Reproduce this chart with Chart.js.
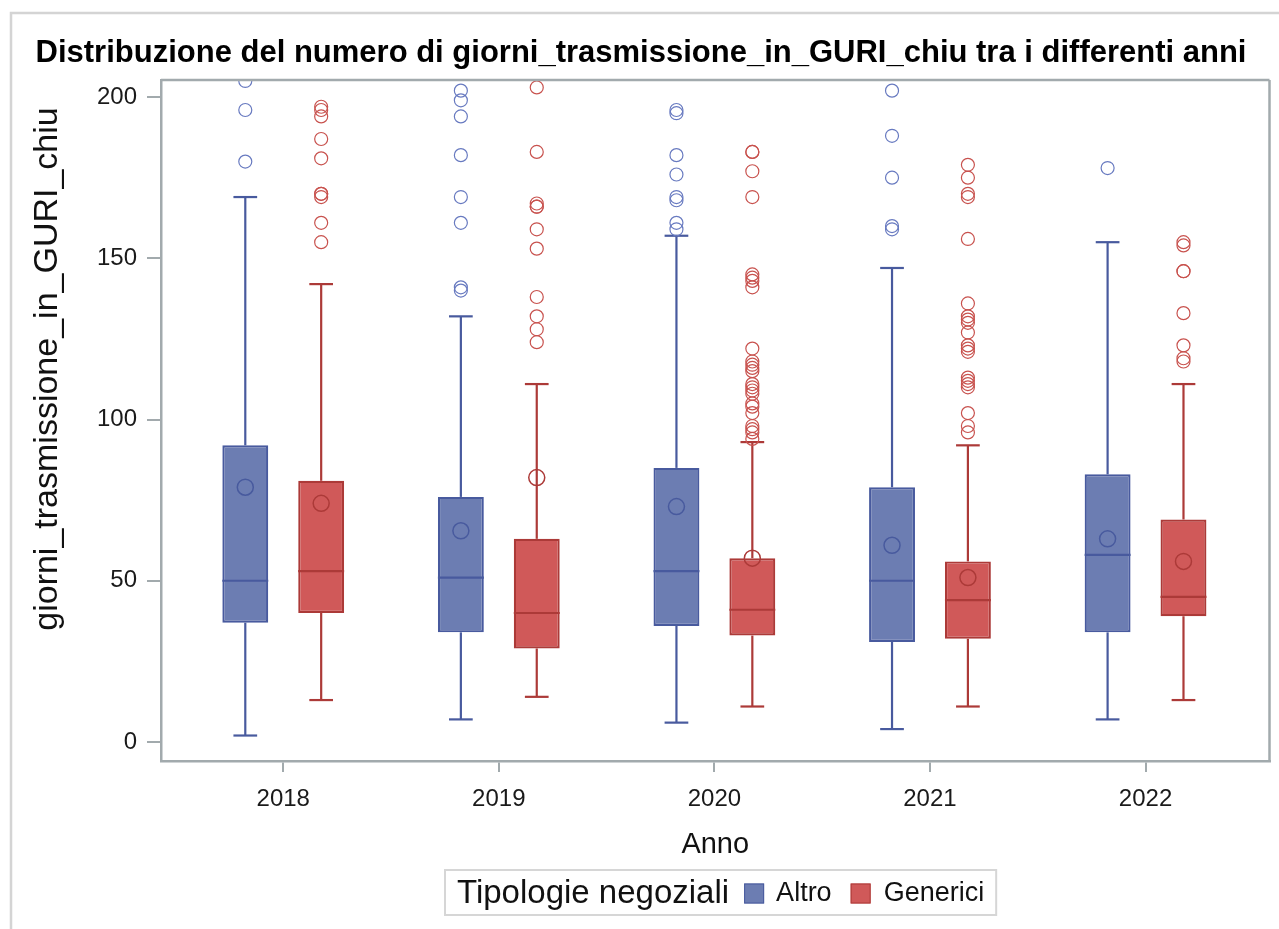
<!DOCTYPE html>
<html>
<head>
<meta charset="utf-8">
<title>Distribuzione giorni_trasmissione_in_GURI_chiu</title>
<script src="https://cdn.jsdelivr.net/npm/chart.js@4.4.0/dist/chart.umd.min.js"></script>
<style>
  html, body { margin: 0; padding: 0; background: #ffffff; }
  #box-wrap { width: 1279px; height: 929px; }
</style>
</head>
<body>
<div id="box-wrap"><canvas id="box-chart" width="1279" height="929"></canvas></div>
<script>
// Anni (categorie)
var years = ["2018", "2019", "2020", "2021", "2022"];
var yTicks = [0, 50, 100, 150, 200];

// Altro
var altroMin    = [2, 7, 6, 4, 7];
var altroQ1     = [37, 34, 36, 31, 34];
var altroMedian = [50, 51, 53, 50, 58];
var altroQ3     = [92, 76, 85, 79, 83];
var altroMax    = [169, 132, 157, 147, 155];
var altroMean   = [79, 65.5, 73, 61, 63];
var altroOutliers = [
    [180, 196, 205],
    [202, 199, 194, 182, 169, 161, 141, 140],
    [196, 195, 182, 176, 169, 168, 161, 159],
    [202, 188, 175, 160, 159],
    [178]
];

// Generici
var genMin    = [13, 14, 11, 11, 13];
var genQ1     = [40, 29, 33, 32, 39];
var genMedian = [53, 40, 41, 44, 45];
var genQ3     = [81, 63, 57, 56, 69];
var genMax    = [142, 111, 93, 92, 111];
var genMean   = [74, 82, 57, 51, 56];
var genOutliers = [
    [197, 196, 194, 187, 181, 170, 170, 169, 161, 155],
    [203, 183, 167, 166, 166, 159, 153, 138, 132, 128, 124],
    [183, 183, 177, 169, 145, 144, 143, 141, 122, 118, 117, 116, 115, 111, 110, 109, 108, 105, 104, 102, 98, 97, 96, 94],
    [179, 175, 170, 169, 156, 136, 132, 131, 130, 127, 123, 122, 121, 113, 112, 111, 110, 102, 98, 96],
    [155, 154, 146, 146, 133, 123, 119, 118]
];

var GROUP_OFFSET = 0.176;   // distanza del box dal centro dell'anno
var CAP_HALF = 0.055;       // mezza larghezza dei baffi

var blueFill = "rgba(108, 125, 178, 1)";
var blueLine = "rgba(72, 90, 158, 1)";
var blueOut  = "rgba(104, 122, 192, 1)";
var redFill  = "rgba(208, 89, 89, 1)";
var redLine  = "rgba(172, 58, 56, 1)";
var redOut   = "rgba(200, 82, 78, 1)";

var groups = [
    { label: "Altro", off: -GROUP_OFFSET, min: altroMin, q1: altroQ1, med: altroMedian, q3: altroQ3, max: altroMax, mean: altroMean, out: altroOutliers, fill: blueFill, line: blueLine, outc: blueOut },
    { label: "Generici", off: GROUP_OFFSET, min: genMin, q1: genQ1, med: genMedian, q3: genQ3, max: genMax, mean: genMean, out: genOutliers, fill: redFill, line: redLine, outc: redOut }
];

var fontFam = "'Liberation Sans', Arial, Helvetica, sans-serif";
Chart.defaults.font.family = fontFam;
Chart.defaults.color = "#1a1a1a";

var datasets = [];
groups.forEach(function (g) {
    datasets.push({
        type: "scatter",
        label: g.label + " media",
        order: 1,
        data: g.mean.map(function (v, i) { return { x: i + g.off, y: v }; }),
        pointStyle: "circle",
        pointRadius: 8,
        pointBorderWidth: 1.5,
        pointBorderColor: g.line,
        pointBackgroundColor: "rgba(0,0,0,0)"
    });
    var pts = [];
    g.out.forEach(function (arr, i) {
        arr.forEach(function (v) { pts.push({ x: i + g.off, y: v }); });
    });
    datasets.push({
        type: "scatter",
        label: g.label + " outlier",
        order: 1,
        data: pts,
        pointStyle: "circle",
        pointRadius: 6.5,
        pointBorderWidth: 1.2,
        pointBorderColor: g.outc,
        pointBackgroundColor: "rgba(0,0,0,0)"
    });
});
groups.forEach(function (g) {
    datasets.push({
        type: "bar",
        label: g.label,
        order: 2,
        data: g.q1.map(function (v, i) { return { x: i, y: [v, g.q3[i]] }; }),
        backgroundColor: g.fill,
        borderColor: g.line,
        borderWidth: 2.2,
        borderSkipped: false,
        categoryPercentage: GROUP_OFFSET * 4,
        barPercentage: 0.605,
        boxGroup: g
    });
});

function line(ctx, x1, y1, x2, y2) {
    ctx.beginPath();
    ctx.moveTo(x1, y1);
    ctx.lineTo(x2, y2);
    ctx.stroke();
}

// baffi, mediane, cornice, titolo asse y e legenda
var boxPlugin = {
    id: "boxParts",
    beforeDraw: function (chart) {
        var ctx = chart.ctx;
        ctx.save();
        ctx.strokeStyle = "#d4d4d4";
        ctx.lineWidth = 2.5;
        ctx.strokeRect(11, 13, 2000, 2000);
        ctx.restore();
    },
    beforeDatasetsDraw: function (chart) {
        var ctx = chart.ctx, xs = chart.scales.x, ys = chart.scales.y;
        ctx.save();
        ctx.lineWidth = 2.2;
        groups.forEach(function (g) {
            ctx.strokeStyle = g.line;
            years.forEach(function (yr, i) {
                var cx = xs.getPixelForValue(i + g.off);
                var hw = xs.getPixelForValue(i + g.off + CAP_HALF) - cx;
                var yMin = ys.getPixelForValue(g.min[i]);
                var yMax = ys.getPixelForValue(g.max[i]);
                line(ctx, cx, ys.getPixelForValue(g.q3[i]), cx, yMax);
                line(ctx, cx, ys.getPixelForValue(g.q1[i]), cx, yMin);
                line(ctx, cx - hw, yMax, cx + hw, yMax);
                line(ctx, cx - hw, yMin, cx + hw, yMin);
            });
        });
        ctx.restore();
    },
    afterDatasetDraw: function (chart, args) {
        var ds = chart.data.datasets[args.index];
        if (!ds.boxGroup) return;
        var g = ds.boxGroup, ctx = chart.ctx, ys = chart.scales.y;
        ctx.save();
        ctx.strokeStyle = g.line;
        ctx.lineWidth = 2.2;
        args.meta.data.forEach(function (bar, i) {
            var y = ys.getPixelForValue(g.med[i]);
            line(ctx, bar.x - bar.width / 2, y, bar.x + bar.width / 2, y);
        });
        ctx.restore();
    },
    afterDraw: function (chart) {
        var ctx = chart.ctx, a = chart.chartArea;
        ctx.save();
        // lati superiore e destro della cornice
        ctx.strokeStyle = "#a2aaad";
        ctx.lineWidth = 2.5;
        line(ctx, a.left, a.top, a.right, a.top);
        line(ctx, a.right, a.top, a.right, a.bottom);

        // titolo asse y
        ctx.save();
        ctx.translate(48, 369);
        ctx.rotate(-Math.PI / 2);
        ctx.font = "34px " + fontFam;
        ctx.fillStyle = "#111";
        ctx.textAlign = "center";
        ctx.textBaseline = "middle";
        ctx.fillText("giorni_trasmissione_in_GURI_chiu", 0, 0);
        ctx.restore();

        // legenda
        var titleFont = "33px " + fontFam, itemFont = "27px " + fontFam;
        var title = "Tipologie negoziali";
        ctx.font = titleFont;
        var wTitle = ctx.measureText(title).width;
        ctx.font = itemFont;
        var wItems = groups.map(function (g) { return ctx.measureText(g.label).width; });
        var sq = 20, pad = 12;
        var total = pad + wTitle + 15 + (sq + 12 + wItems[0]) + 19 + (sq + 13 + wItems[1]) + pad;
        var x0 = Math.round((a.left + a.right) / 2 - total / 2 + 5);
        var yTop = 870, h = 45, yc = yTop + h / 2 + 1;
        ctx.strokeStyle = "#d6d6d6";
        ctx.lineWidth = 2;
        ctx.strokeRect(x0, yTop, total, h);
        ctx.fillStyle = "#111";
        ctx.textBaseline = "middle";
        ctx.textAlign = "left";
        ctx.font = titleFont;
        var x = x0 + pad;
        ctx.fillText(title, x, yc);
        x += wTitle + 15;
        ctx.font = itemFont;
        groups.forEach(function (g, k) {
            ctx.fillStyle = g.fill;
            ctx.fillRect(x, yc - sq / 2, sq, sq);
            ctx.strokeStyle = g.line;
            ctx.lineWidth = 1;
            ctx.strokeRect(x + 0.5, yc - sq / 2 + 0.5, sq - 1, sq - 1);
            x += sq + (k === 0 ? 12 : 13);
            ctx.fillStyle = "#111";
            ctx.fillText(g.label, x, yc);
            x += wItems[k] + 19;
        });
        ctx.restore();
    }
};

var ctx1 = document.getElementById("box-chart").getContext("2d");
var boxChart = new Chart(ctx1, {
    type: "bar",
    data: { datasets: datasets },
    plugins: [boxPlugin],
    options: {
        responsive: false,
        animation: false,
        devicePixelRatio: 1,
        layout: { padding: { left: 11, top: 12, right: 8, bottom: 60 } },
        plugins: {
            legend: { display: false },
            tooltip: { enabled: false },
            title: {
                display: true,
                text: "Distribuzione del numero di giorni_trasmissione_in_GURI_chiu tra i differenti anni",
                color: "#000",
                font: { size: 31, weight: "bold" },
                padding: { top: 22.4, bottom: 8.4 }
            }
        },
        scales: {
            x: {
                type: "linear",
                min: -0.567,
                max: 4.575,
                offset: false,
                afterBuildTicks: function (scale) {
                    scale.ticks = years.map(function (y, i) { return { value: i }; });
                },
                afterFit: function (scale) { scale.height = 108; },
                ticks: {
                    font: { size: 24 },
                    color: "#1a1a1a",
                    padding: 13,
                    maxRotation: 0,
                    callback: function (v) { return years[v]; }
                },
                grid: { display: true, offset: false, drawOnChartArea: false, drawTicks: true, tickLength: 11, color: "#a2aaad", lineWidth: 2 },
                border: { display: true, color: "#a2aaad", width: 2.5 },
                title: { display: true, text: "Anno", font: { size: 29 }, color: "#111", padding: { top: 0, bottom: 7 } }
            },
            y: {
                min: -5.9,
                max: 205.3,
                afterBuildTicks: function (scale) {
                    scale.ticks = yTicks.map(function (v) { return { value: v }; });
                },
                afterFit: function (scale) { scale.width = 150; },
                ticks: { font: { size: 24 }, color: "#1a1a1a", padding: 10 },
                grid: { display: true, drawOnChartArea: false, drawTicks: true, tickLength: 14, color: "#a2aaad", lineWidth: 2 },
                border: { display: true, color: "#a2aaad", width: 2.5 },
                title: { display: false }
            }
        }
    }
});
</script>
</body>
</html>
